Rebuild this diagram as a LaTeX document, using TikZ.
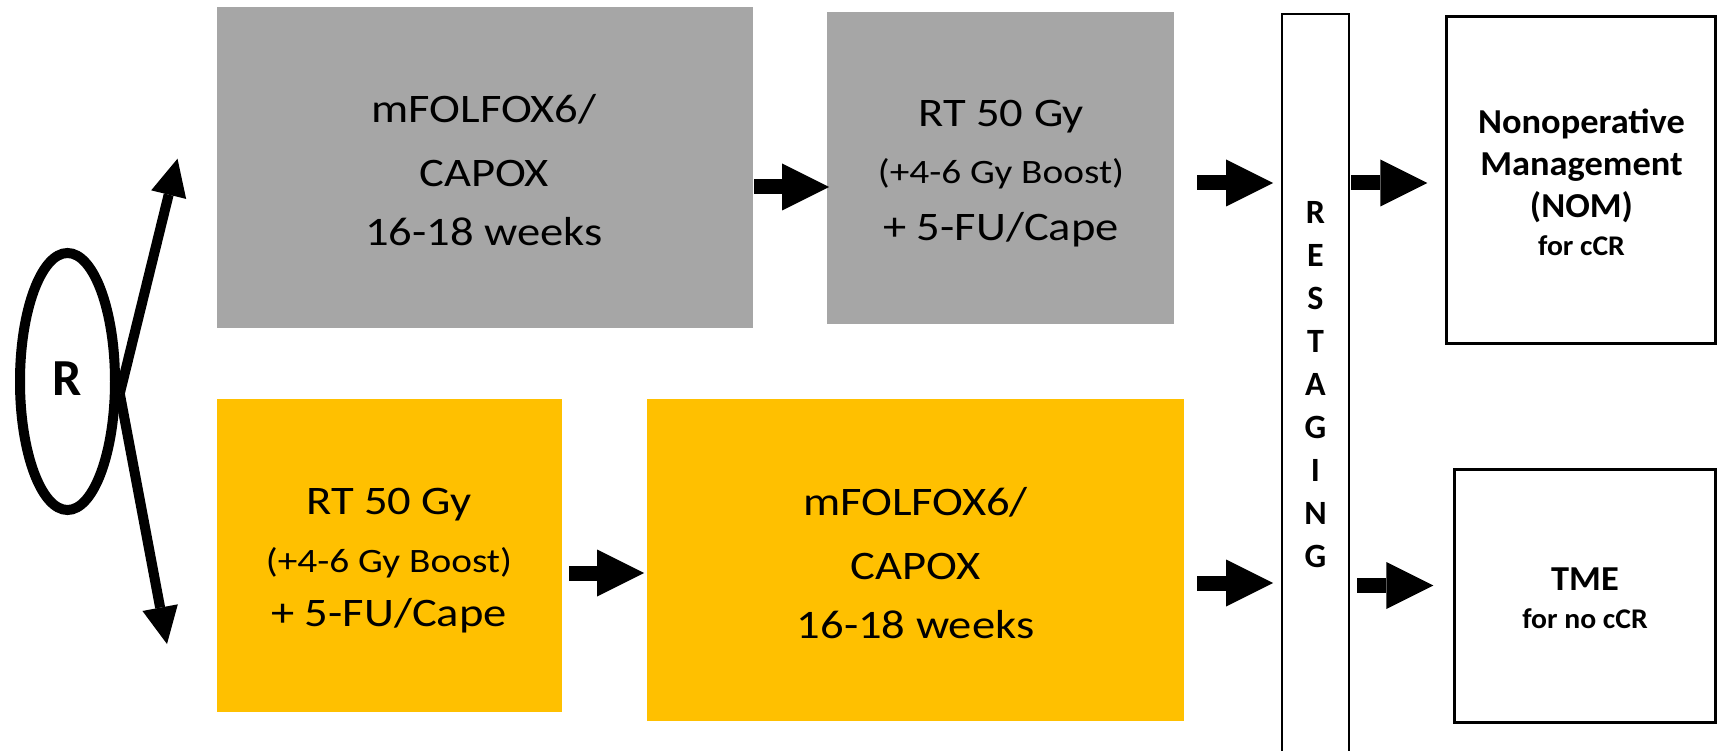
\documentclass[tikz,border=0pt]{standalone}
\usepackage{fontspec}
\setmainfont{Carlito}
\newfontfamily\wide{Carlito}[FakeStretch=1.15]
\newfontfamily\bwide{Carlito}[FakeStretch=1.04]
\usetikzlibrary{arrows.meta,shapes.geometric,calc}
\definecolor{boxgray}{HTML}{A6A6A6}
\definecolor{boxyellow}{HTML}{FFC000}
\newcommand\smalltxt{\fontsize{34.2}{57}\selectfont}
\newcommand\smallbold{\fontsize{28.5}{38}\selectfont}
\begin{document}
\begin{tikzpicture}[x=1pt,y=-1pt,
  fillbox/.style={rectangle, inner sep=0pt, outer sep=0pt},
  outbox/.style={rectangle, draw=black, line width=2.6pt, inner sep=0pt, outer sep=0pt, fill=white},
  txt/.style={inner sep=0pt, outer sep=0pt, anchor=north, align=center},
  regtxt/.style={font=\wide\fontsize{40.5}{#1}\selectfont},
  boldtxt/.style={font=\bwide\bfseries\fontsize{#1}{42.5}\selectfont},
  barrow/.style={line width=15pt, -{Triangle[width=47pt,length=47pt,line width=0pt]}},
  thinarrow/.style={line width=10pt, -{Triangle[width=36pt,length=37pt,line width=0pt]}}
]
\fill[white] (0,0) rectangle (1718,751);
\useasboundingbox (0,0) rectangle (1718,751);

% boxes
\node[fillbox, fill=boxgray, minimum width=536pt, minimum height=321pt] (g1) at (485,167.5) {};
\node[fillbox, fill=boxgray, minimum width=346.5pt, minimum height=312pt] (g2) at (1000.25,168) {};
\node[fillbox, fill=boxyellow, minimum width=345pt, minimum height=313pt] (y1) at (389.5,555.5) {};
\node[fillbox, fill=boxyellow, minimum width=537pt, minimum height=322pt] (y2) at (915.5,560) {};
\node[outbox, minimum width=67pt, minimum height=756pt] (rst) at (1315.5,392) {};
\node[outbox, minimum width=269.5pt, minimum height=327.5pt] (nom) at (1581,180) {};
\node[outbox, minimum width=261.5pt, minimum height=253pt] (tme) at (1585,595.75) {};
\node[ellipse, draw=black, line width=10pt, inner sep=0pt, minimum width=95pt, minimum height=257pt,
      font=\bfseries\fontsize{52}{60}\selectfont, text depth=6pt] (R) at (67.5,381.5) {R};

% texts
\node[txt, regtxt=59] (g1t) at (484,81.8) {\rule{0pt}{40.5pt}mFOLFOX6/\\[5.7pt]CAPOX\\16-18 weeks};
\node[txt, regtxt=57] (g2t) at (1001,86.5) {\rule{0pt}{40.5pt}RT 50 Gy\\{\smalltxt (+4-6 Gy Boost)}\\+ 5-FU/Cape};
\node[txt, regtxt=54] (y1t) at (389,473.5) {\rule{0pt}{40.5pt}RT 50 Gy\\[4pt]{\smalltxt (+4-6 Gy Boost)}\\+ 5-FU/Cape};
\node[txt, regtxt=59] (y2t) at (915.5,474.5) {\rule{0pt}{40.5pt}mFOLFOX6/\\[5.7pt]CAPOX\\16-18 weeks};
\node[txt, boldtxt=35] (nomt) at (1581.5,98) {\rule{0pt}{35pt}Nonoperative\\Management\\(NOM)\\[-4.5pt]{\smallbold for cCR}};
\node[txt, font=\bwide\bfseries\fontsize{35}{38}\selectfont] (tmet) at (1585,555) {\rule{0pt}{35pt}TME\\{\smallbold for no cCR}};
\node[txt, font=\bfseries\fontsize{34}{43.1}\selectfont] (rstt) at (1315.5,189) {\rule{0pt}{34pt}R\\E\\S\\T\\A\\G\\I\\N\\G};

% randomisation arrows
\coordinate (upTip) at (177.5,158.7);
\coordinate (dnTip) at (167,644);
\draw[thinarrow] (R.-13) -- (upTip);
\draw[thinarrow] (R.-13) -- (dnTip);

% block arrows
\draw[barrow] ($(g1.east)+(1,19.5)$) -- ($(g2.west)+(2,19)$);
\draw[barrow] ($(y1.east)+(7,17.5)$) -- ($(y2.west)+(-3,13)$);
\draw[barrow] ($(g2.east)+(23.5,15)$) -- ($(rst.west)+(-9,-209)$);
\draw[barrow] ($(y2.east)+(13,23)$) -- ($(rst.west)+(-9,191)$);
\draw[barrow] ($(rst.east)+(2,-209)$) -- ($(nom.west)+(-19,3)$);
\draw[barrow] ($(rst.east)+(8,193.5)$) -- ($(tme.west)+(-21,-10.25)$);
\end{tikzpicture}
\end{document}
